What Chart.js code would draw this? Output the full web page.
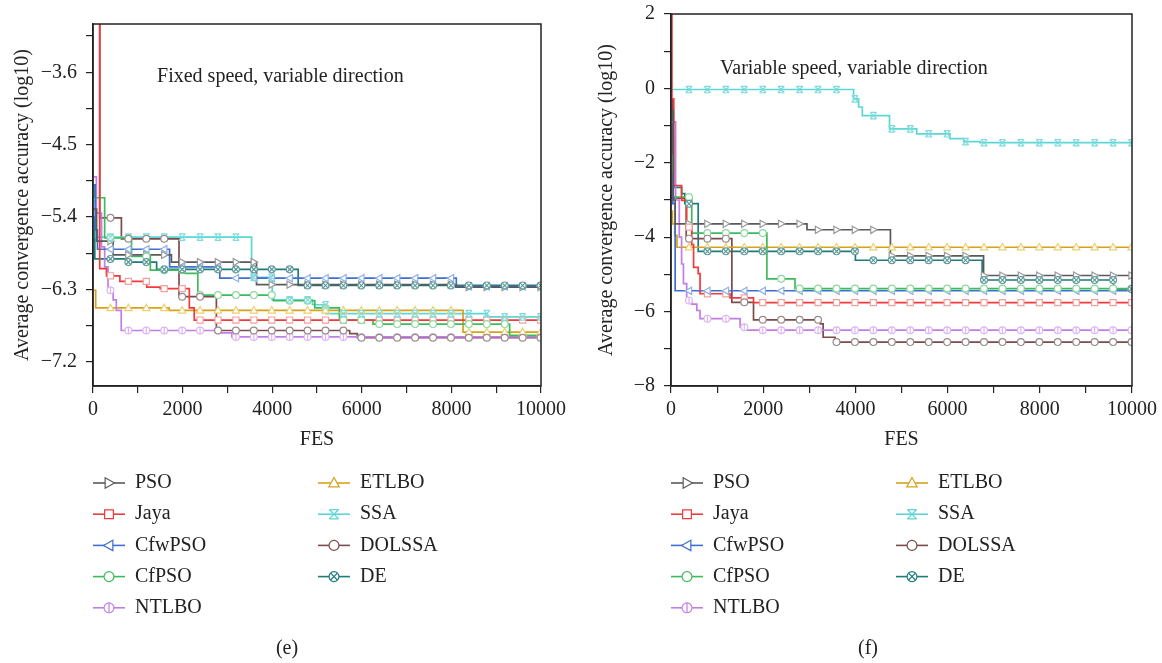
<!DOCTYPE html>
<html>
<head>
<meta charset="utf-8">
<script src="https://cdn.jsdelivr.net/npm/chart.js@4.4.1/dist/chart.umd.min.js"></script>
<style>
  body { margin: 0; background: #fff; }
  #wrap { position: relative; width: 1162px; height: 663px; }
  canvas { position: absolute; top: 0; }
</style>
</head>
<body>
<div id="wrap">
  <canvas id="chartE" width="581" height="663" style="left:0"></canvas>
  <canvas id="chartF" width="581" height="663" style="left:581px"></canvas>
</div>
<script>
// series names, in legend order
const algorithms = ['PSO', 'Jaya', 'CfwPSO', 'CfPSO', 'NTLBO', 'ETLBO', 'SSA', 'DOLSSA', 'DE'];

// (e) fixed speed, variable direction -- [FES, log10 accuracy] at each step change
const psoE    = [[0,-5.30],[80,-5.70],[450,-5.87],[1750,-5.96],[3650,-6.24],[8100,-6.27],[10000,-6.27]];
const jayaE   = [[0,-2.0],[150,-6.04],[300,-6.13],[600,-6.20],[1200,-6.27],[1500,-6.29],[2150,-6.53],[2260,-6.68],[10000,-6.69]];
const cfwpsoE = [[0,-5.0],[50,-5.56],[100,-5.80],[1710,-6.02],[2830,-6.16],[8110,-6.26],[10000,-6.26]];
const cfpsoE  = [[0,-5.0],[30,-5.16],[260,-5.66],[860,-5.89],[1280,-6.06],[2050,-6.10],[2340,-6.37],[4030,-6.44],[4950,-6.53],[5500,-6.68],[6250,-6.73],[9300,-6.87],[10000,-6.87]];
const ntlboE  = [[0,-4.9],[75,-5.35],[190,-5.77],[260,-6.02],[335,-6.31],[450,-6.43],[520,-6.56],[630,-6.81],[2800,-6.84],[3100,-6.89],[10000,-6.89]];
const etlboE  = [[0,-6.31],[60,-6.53],[1700,-6.56],[8260,-6.83],[10000,-6.83]];
const ssaE    = [[0,-5.2],[60,-5.65],[3540,-6.15],[4000,-6.43],[4900,-6.49],[5200,-6.60],[8800,-6.64],[10000,-6.64]];
const dolssaE = [[0,-2.0],[150,-5.41],[634,-5.67],[1920,-6.39],[2754,-6.81],[5730,-6.85],[5900,-6.90],[10000,-6.91]];
const deE     = [[0,-5.4],[40,-5.92],[780,-5.96],[1420,-6.05],[4580,-6.25],[10000,-6.26]];

// (f) variable speed, variable direction
const psoF    = [[0,-0.6],[50,-3.0],[90,-3.64],[2950,-3.80],[4760,-4.50],[6780,-5.03],[10000,-5.03]];
const jayaF   = [[0,3.0],[20,-0.28],[60,-2.61],[230,-3.01],[340,-3.73],[450,-4.2],[490,-4.81],[590,-4.98],[630,-5.52],[1280,-5.63],[1790,-5.76],[10000,-5.76]];
const cfwpsoF = [[0,-2.3],[40,-3.1],[90,-5.44],[10000,-5.45]];
const cfpsoF  = [[0,-1.8],[30,-2.92],[450,-3.89],[2080,-5.12],[2690,-5.38],[10000,-5.38]];
const ntlboF  = [[0,-0.9],[100,-3.0],[180,-4.0],[230,-4.72],[270,-5.25],[340,-5.70],[450,-5.80],[560,-5.97],[630,-6.19],[1500,-6.42],[1600,-6.50],[10000,-6.53]];
const etlboF  = [[0,-3.3],[30,-3.64],[80,-3.95],[130,-4.27],[10000,-4.27]];
const ssaF    = [[0,-0.03],[3960,-0.28],[4070,-0.50],[4150,-0.73],[4740,-1.09],[5330,-1.22],[6050,-1.35],[6350,-1.43],[6700,-1.46],[10000,-1.46]];
const dolssaF = [[0,-0.3],[30,-2.95],[330,-4.04],[1320,-5.75],[1790,-6.22],[3240,-6.33],[3300,-6.69],[3560,-6.82],[10000,-6.82]];
const deF     = [[0,-1.5],[50,-2.66],[230,-2.83],[300,-3.10],[590,-4.38],[4000,-4.62],[6750,-5.15],[9600,-5.39],[10000,-5.39]];

// axes
const xTicks  = [0, 1000, 2000, 3000, 4000, 5000, 6000, 7000, 8000, 9000, 10000];
const xLabels = [0, 2000, 4000, 6000, 8000, 10000];
const yTicksE  = [-7.2, -6.75, -6.3, -5.85, -5.4, -4.95, -4.5, -4.05, -3.6, -3.15];
const yLabelsE = [-7.2, -6.3, -5.4, -4.5, -3.6];
const yTicksF  = [-8, -7, -6, -5, -4, -3, -2, -1, 0, 1, 2];
const yLabelsF = [-8, -6, -4, -2, 0, 2];
// FES where the curve markers sit
const markerFES = [390, 790, 1190, 1590, 1990, 2390, 2790, 3190, 3590, 3990, 4390, 4790, 5190,
                   5590, 5990, 6390, 6790, 7190, 7590, 7990, 8390, 8790, 9190, 9590, 9990];

const lineColors   = ['#5a5a5a', '#ef3b3b', '#3f6fcf', '#3dba5c', '#c27ee6', '#d6a21e', '#5cd6d6', '#7d4b4b', '#1f7a7a'];
const markerColors = ['#9a9a9a', '#f5a0a0', '#8fb0e6', '#8ed8a0', '#ddb6f0', '#ecd070', '#7fdcdc', '#9a8a8a', '#5f9a9a'];
const markerShapes = ['triRight', 'square', 'triLeft', 'circle', 'circleBar', 'triUp', 'hourglass', 'circle', 'circleX'];

const FONT = '"Liberation Serif", "DejaVu Serif", serif';
const INK = '#222';

function stepValue(points, fes) {
    let v = null;
    for (const p of points) {
        if (p.x <= fes) v = p.y; else break;
    }
    return v;
}

function drawMarker(ctx, shape, x, y, r, color) {
    ctx.save();
    ctx.strokeStyle = color;
    ctx.fillStyle = '#fff';
    ctx.lineWidth = 1.2;
    ctx.beginPath();
    switch (shape) {
        case 'triRight':
            ctx.moveTo(x + r, y); ctx.lineTo(x - r * 0.7, y - r * 0.95); ctx.lineTo(x - r * 0.7, y + r * 0.95); ctx.closePath();
            ctx.fill(); ctx.stroke(); break;
        case 'triLeft':
            ctx.moveTo(x - r, y); ctx.lineTo(x + r * 0.7, y - r * 0.95); ctx.lineTo(x + r * 0.7, y + r * 0.95); ctx.closePath();
            ctx.fill(); ctx.stroke(); break;
        case 'triUp':
            ctx.moveTo(x, y - r); ctx.lineTo(x + r * 0.95, y + r * 0.7); ctx.lineTo(x - r * 0.95, y + r * 0.7); ctx.closePath();
            ctx.fill(); ctx.stroke(); break;
        case 'square':
            ctx.rect(x - r * 0.8, y - r * 0.8, r * 1.6, r * 1.6);
            ctx.fill(); ctx.stroke(); break;
        case 'circle':
            ctx.arc(x, y, r * 0.9, 0, Math.PI * 2);
            ctx.fill(); ctx.stroke(); break;
        case 'circleBar':
            ctx.arc(x, y, r * 0.9, 0, Math.PI * 2);
            ctx.fill(); ctx.stroke();
            ctx.beginPath(); ctx.moveTo(x, y - r * 0.9); ctx.lineTo(x, y + r * 0.9); ctx.stroke(); break;
        case 'circleX': {
            ctx.arc(x, y, r * 0.9, 0, Math.PI * 2);
            ctx.fill(); ctx.stroke();
            const d = r * 0.62;
            ctx.beginPath();
            ctx.moveTo(x - d, y - d); ctx.lineTo(x + d, y + d);
            ctx.moveTo(x + d, y - d); ctx.lineTo(x - d, y + d);
            ctx.stroke(); break;
        }
        case 'hourglass': {
            const d = r * 0.85;
            ctx.moveTo(x - d, y - d); ctx.lineTo(x + d, y + d);
            ctx.moveTo(x + d, y - d); ctx.lineTo(x - d, y + d);
            ctx.moveTo(x - d, y - d); ctx.lineTo(x + d, y - d);
            ctx.moveTo(x - d, y + d); ctx.lineTo(x + d, y + d);
            ctx.stroke(); break;
        }
    }
    ctx.restore();
}

// box round the plot area
const framePlugin = {
    id: 'frame',
    afterDraw(chart) {
        const { ctx, chartArea: a } = chart;
        ctx.save();
        ctx.strokeStyle = INK;
        ctx.lineWidth = 1.5;
        ctx.strokeRect(a.left, a.top, a.right - a.left, a.bottom - a.top);
        ctx.restore();
    }
};

// open markers spaced along each curve
const markerPlugin = {
    id: 'curveMarkers',
    afterDatasetsDraw(chart) {
        const { ctx, chartArea: a, scales } = chart;
        ctx.save();
        ctx.beginPath();
        ctx.rect(a.left, a.top, a.right - a.left, a.bottom - a.top);
        ctx.clip();
        chart.data.datasets.forEach((ds, i) => {
            markerFES.forEach(f => {
                const v = stepValue(ds.data, f);
                if (v === null) return;
                drawMarker(ctx, markerShapes[i], scales.x.getPixelForValue(f), scales.y.getPixelForValue(v), 3.8, markerColors[i]);
            });
        });
        ctx.restore();
    }
};

// in-plot note, two-column legend and panel letter
const notesPlugin = {
    id: 'notes',
    afterDraw(chart, args, opts) {
        const { ctx, chartArea: a, scales } = chart;
        ctx.save();
        ctx.font = '20px ' + FONT;
        ctx.fillStyle = INK;
        ctx.textBaseline = 'middle';
        ctx.textAlign = 'left';
        ctx.fillText(opts.note, scales.x.getPixelForValue(opts.noteAt[0]), scales.y.getPixelForValue(opts.noteAt[1]));

        chart.data.datasets.forEach((ds, i) => {
            const col = i < 5 ? 0 : 1;
            const row = i < 5 ? i : i - 5;
            const x0 = a.left + col * 225;
            const yy = 483 + row * 31.2;
            ctx.strokeStyle = lineColors[i];
            ctx.lineWidth = 1.6;
            ctx.beginPath();
            ctx.moveTo(x0, yy);
            ctx.lineTo(x0 + 32, yy);
            ctx.stroke();
            drawMarker(ctx, markerShapes[i], x0 + 16, yy, 5.5, lineColors[i]);
            ctx.fillStyle = INK;
            ctx.fillText(ds.label, x0 + 42, yy);
        });

        ctx.textAlign = 'center';
        ctx.fillText(opts.caption, 287, 649);
        ctx.restore();
    }
};

const fmt = v => String(v).replace('-', '\u2212');

function buildChart(canvasId, series, yMin, yMax, yTicks, yLabels, side) {
    const datasets = series.map((pairs, i) => ({
        label: algorithms[i],
        data: pairs.map(([x, y]) => ({ x, y })),
        borderColor: lineColors[i],
        borderWidth: 1.7,
        pointRadius: 0,
        stepped: 'before',
        fill: false
    }));

    return new Chart(document.getElementById(canvasId), {
        type: 'line',
        data: { datasets },
        options: {
            responsive: false,
            animation: false,
            events: [],
            layout: { padding: { left: 0, right: side.right, top: side.top, bottom: 663 - 386 - 70 } },
            scales: {
                x: {
                    type: 'linear',
                    min: 0,
                    max: 10000,
                    afterBuildTicks: s => { s.ticks = xTicks.map(v => ({ value: v })); },
                    afterFit: s => { s.height = 70; s.paddingLeft = 0; s.paddingRight = 0; },
                    grid: { drawOnChartArea: false, tickLength: 7, color: INK, lineWidth: 1.2 },
                    border: { color: INK, width: 1.5 },
                    ticks: {
                        autoSkip: false,
                        maxRotation: 0,
                        padding: 5,
                        color: INK,
                        font: { family: FONT, size: 20 },
                        callback: v => xLabels.includes(v) ? String(v) : ''
                    },
                    title: {
                        display: true,
                        text: 'FES',
                        color: INK,
                        font: { family: FONT, size: 20 },
                        padding: { top: 0, bottom: 4 }
                    }
                },
                y: {
                    type: 'linear',
                    min: yMin,
                    max: yMax,
                    afterBuildTicks: s => { s.ticks = yTicks.map(v => ({ value: v })); },
                    afterFit: s => { s.width = side.axis; s.paddingTop = 0; s.paddingBottom = 0; },
                    grid: { drawOnChartArea: false, tickLength: 7, color: INK, lineWidth: 1.2 },
                    border: { color: INK, width: 1.5 },
                    ticks: {
                        autoSkip: false,
                        padding: 9,
                        color: INK,
                        font: { family: FONT, size: 20 },
                        callback: v => yLabels.includes(v) ? fmt(v) : ''
                    },
                    title: {
                        display: true,
                        text: 'Average convergence accuracy (log10)',
                        color: INK,
                        font: { family: FONT, size: 20 },
                        padding: { top: side.titlePad, bottom: 0 }
                    }
                }
            },
            plugins: {
                legend: { display: false },
                tooltip: { enabled: false },
                notes: { note: side.note, noteAt: side.noteAt, caption: side.caption }
            }
        },
        plugins: [markerPlugin, framePlugin, notesPlugin]
    });
}

buildChart('chartE', [psoE, jayaE, cfwpsoE, cfpsoE, ntlboE, etlboE, ssaE, dolssaE, deE],
    -7.5, -3.0, yTicksE, yLabelsE,
    { axis: 93, right: 40, top: 24, titlePad: 11, note: 'Fixed speed, variable direction', noteAt: [1430, -3.66], caption: '(e)' });

buildChart('chartF', [psoF, jayaF, cfwpsoF, cfpsoF, ntlboF, etlboF, ssaF, dolssaF, deF],
    -8, 2, yTicksF, yLabelsF,
    { axis: 90, right: 30, top: 14, titlePad: 14, note: 'Variable speed, variable direction', noteAt: [1064, 0.535], caption: '(f)' });
</script>
</body>
</html>
